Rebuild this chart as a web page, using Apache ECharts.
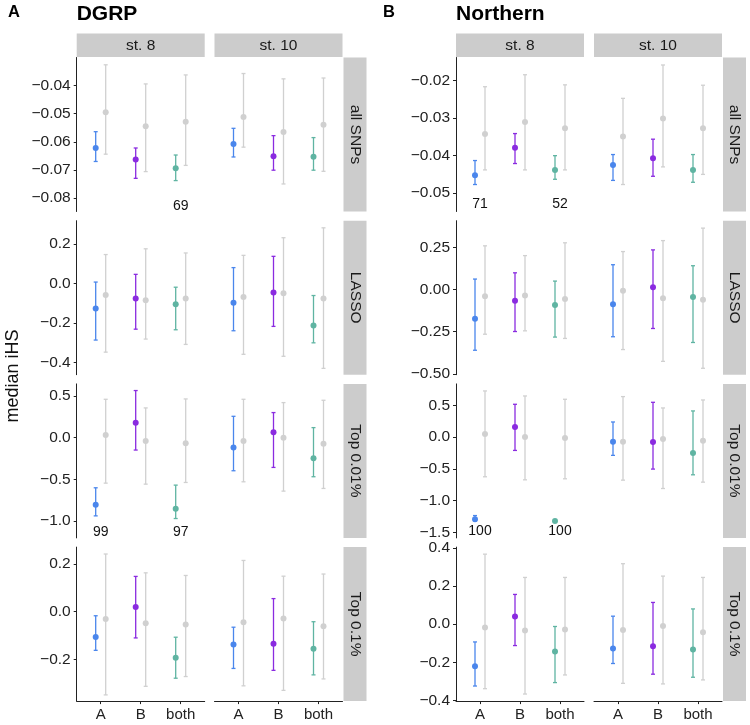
<!DOCTYPE html>
<html><head><meta charset="utf-8">
<script src="https://cdn.jsdelivr.net/npm/echarts@6/dist/echarts.min.js"></script>
<style>html,body{margin:0;padding:0;background:#fff}#c{width:750px;height:725px}</style>
</head><body><div id="c"></div>
<script>
// ---- categories ----
const categories = ['A', 'B', 'both'];
const stages = ['st. 8', 'st. 10'];
const snpSets = ['all SNPs', 'LASSO', 'Top 0.01%', 'Top 0.1%'];
const panels = ['DGRP', 'Northern'];
const panelTags = ['A', 'B'];

// ---- values: each entry is [median, lower, upper] for A, B, both ----
// DGRP
const DGRP_all_st8_obs   = [[-0.0622,-0.0670,-0.0564],[-0.0663,-0.0730,-0.0622],[-0.0694,-0.0738,-0.0647]];
const DGRP_all_st8_null  = [[-0.0495,-0.0644,-0.0326],[-0.0545,-0.0706,-0.0394],[-0.0529,-0.0684,-0.0362]];
const DGRP_all_st10_obs  = [[-0.0608,-0.0654,-0.0552],[-0.0651,-0.0701,-0.0578],[-0.0653,-0.0701,-0.0585]];
const DGRP_all_st10_null = [[-0.0512,-0.0619,-0.0357],[-0.0565,-0.0750,-0.0376],[-0.0539,-0.0705,-0.0373]];

const DGRP_lasso_st8_obs   = [[-0.127,-0.286,0.007],[-0.076,-0.231,0.046],[-0.105,-0.234,-0.019]];
const DGRP_lasso_st8_null  = [[-0.058,-0.347,0.146],[-0.085,-0.281,0.175],[-0.076,-0.308,0.154]];
const DGRP_lasso_st10_obs  = [[-0.097,-0.239,0.080],[-0.046,-0.217,0.137],[-0.212,-0.300,-0.061]];
const DGRP_lasso_st10_null = [[-0.068,-0.358,0.142],[-0.049,-0.368,0.231],[-0.076,-0.429,0.281]];

const DGRP_top001_st8_obs   = [[-0.808,-0.941,-0.603],[0.181,-0.149,0.567],[-0.856,-0.973,-0.571]];
const DGRP_top001_st8_null  = [[0.032,-0.547,0.462],[-0.040,-0.559,0.358],[-0.068,-0.539,0.466]];
const DGRP_top001_st10_obs  = [[-0.117,-0.398,0.257],[0.064,-0.358,0.302],[-0.249,-0.470,0.121]];
const DGRP_top001_st10_null = [[-0.040,-0.531,0.462],[0.000,-0.643,0.422],[-0.072,-0.611,0.450]];

const DGRP_top01_st8_obs   = [[-0.106,-0.162,-0.017],[0.020,-0.110,0.148],[-0.193,-0.279,-0.107]];
const DGRP_top01_st8_null  = [[-0.031,-0.349,0.242],[-0.048,-0.313,0.163],[-0.054,-0.272,0.152]];
const DGRP_top01_st10_obs  = [[-0.138,-0.238,-0.065],[-0.134,-0.246,0.055],[-0.155,-0.265,-0.042]];
const DGRP_top01_st10_null = [[-0.044,-0.311,0.215],[-0.028,-0.330,0.149],[-0.061,-0.282,0.158]];

// Northern
const NOR_all_st8_obs   = [[-0.0453,-0.0478,-0.0414],[-0.0380,-0.0422,-0.0342],[-0.0439,-0.0464,-0.0401]];
const NOR_all_st8_null  = [[-0.0343,-0.0439,-0.0217],[-0.0311,-0.0439,-0.0185],[-0.0328,-0.0439,-0.0212]];
const NOR_all_st10_obs  = [[-0.0426,-0.0467,-0.0398],[-0.0408,-0.0456,-0.0357],[-0.0439,-0.0472,-0.0398]];
const NOR_all_st10_null = [[-0.0350,-0.0478,-0.0248],[-0.0302,-0.0431,-0.0159],[-0.0328,-0.0451,-0.0213]];

const NOR_lasso_st8_obs   = [[-0.173,-0.360,0.062],[-0.066,-0.249,0.099],[-0.092,-0.282,0.050]];
const NOR_lasso_st8_null  = [[-0.040,-0.265,0.259],[-0.036,-0.245,0.201],[-0.056,-0.290,0.277]];
const NOR_lasso_st10_obs  = [[-0.088,-0.280,0.147],[0.014,-0.231,0.235],[-0.044,-0.314,0.141]];
const NOR_lasso_st10_null = [[-0.008,-0.356,0.225],[-0.052,-0.426,0.290],[-0.060,-0.467,0.364]];

const NOR_top001_st8_obs   = [[-1.295,-1.321,-1.237],[0.158,-0.211,0.516],[-1.321,-1.330,-1.312]];
const NOR_top001_st8_null  = [[0.047,-0.626,0.726],[0.000,-0.674,0.647],[-0.016,-0.658,0.595]];
const NOR_top001_st10_obs  = [[-0.074,-0.289,0.237],[-0.079,-0.505,0.547],[-0.253,-0.595,0.411]];
const NOR_top001_st10_null = [[-0.074,-0.679,0.637],[-0.032,-0.811,0.458],[-0.058,-0.711,0.584]];

const NOR_top01_st8_obs   = [[-0.220,-0.324,-0.093],[0.040,-0.112,0.156],[-0.143,-0.306,-0.012]];
const NOR_top01_st8_null  = [[-0.017,-0.338,0.367],[-0.033,-0.366,0.245],[-0.028,-0.266,0.245]];
const NOR_top01_st10_obs  = [[-0.128,-0.206,0.042],[-0.115,-0.262,0.114],[-0.133,-0.278,0.080]];
const NOR_top01_st10_null = [[-0.030,-0.310,0.317],[-0.009,-0.313,0.252],[-0.042,-0.292,0.245]];

// ---- count labels: [panel, snpSet, stage, category, text, yValue] ----
const countLabels = [
  [0, 0, 0, 2, '69', -0.0828],
  [0, 2, 0, 0, '99', -1.134],
  [0, 2, 0, 2, '97', -1.134],
  [1, 0, 0, 0, '71', -0.0531],
  [1, 0, 0, 2, '52', -0.0531],
  [1, 2, 0, 0, '100', -1.479],
  [1, 2, 0, 2, '100', -1.479]
];

// ---- y tick values per panel/row ----
const yTicks = [
  [[-0.08,-0.07,-0.06,-0.05,-0.04],[-0.4,-0.2,0,0.2],[-1.0,-0.5,0,0.5],[-0.2,0,0.2]],
  [[-0.05,-0.04,-0.03,-0.02],[-0.5,-0.25,0,0.25],[-1.5,-1.0,-0.5,0,0.5],[-0.4,-0.2,0,0.2,0.4]]
];
const yDecimals = [[2,1,1,1],[2,2,1,1]];
const yRanges = [
  [[-0.0848,-0.0300],[-0.461,0.317],[-1.206,0.647],[-0.375,0.271]],
  [[-0.0550,-0.0139],[-0.505,0.408],[-1.589,0.837],[-0.403,0.404]]
];

const facetData = [
  [
    [[DGRP_all_st8_obs, DGRP_all_st8_null],[DGRP_all_st10_obs, DGRP_all_st10_null]],
    [[DGRP_lasso_st8_obs, DGRP_lasso_st8_null],[DGRP_lasso_st10_obs, DGRP_lasso_st10_null]],
    [[DGRP_top001_st8_obs, DGRP_top001_st8_null],[DGRP_top001_st10_obs, DGRP_top001_st10_null]],
    [[DGRP_top01_st8_obs, DGRP_top01_st8_null],[DGRP_top01_st10_obs, DGRP_top01_st10_null]]
  ],
  [
    [[NOR_all_st8_obs, NOR_all_st8_null],[NOR_all_st10_obs, NOR_all_st10_null]],
    [[NOR_lasso_st8_obs, NOR_lasso_st8_null],[NOR_lasso_st10_obs, NOR_lasso_st10_null]],
    [[NOR_top001_st8_obs, NOR_top001_st8_null],[NOR_top001_st10_obs, NOR_top001_st10_null]],
    [[NOR_top01_st8_obs, NOR_top01_st8_null],[NOR_top01_st10_obs, NOR_top01_st10_null]]
  ]
];

// ---- styling / layout ----
const obsColors = ['#4a86ec', '#8a2be0', '#5fb4a2'];
const nullColor = '#d0d0d0';
const FONT = 'Liberation Sans, Arial, Helvetica, sans-serif';
const colLeft = [[76.7, 214.5], [456, 594]];
const colWidth = 128;
const rowTop0 = 57.5, rowStep = 163.2, rowH = 154;
const dodge = 0.125;
const stripFill = '#cccccc';
const tickFont = 15.5, stripFont = 15.5;

const grids = [], xAxes = [], yAxes = [], series = [], graphics = [];
const fmtMinus = (v, d) => (v < 0 ? '\u2212' : '') + Math.abs(v).toFixed(d);

let gi = 0;
for (let p = 0; p < 2; p++) {
  for (let r = 0; r < 4; r++) {
    for (let c = 0; c < 2; c++) {
      const top = rowTop0 + r * rowStep;
      const left = colLeft[p][c];
      grids.push({ left: left, top: top, width: colWidth, height: rowH, containLabel: false });
      const bottomRow = r === 3;
      xAxes.push({
        type: 'value', gridIndex: gi, min: 0.4, max: 3.6,
        show: true,
        axisLine: { show: bottomRow, onZero: false, lineStyle: { color: '#222', width: 1 } },
        axisTick: { show: bottomRow, customValues: [1, 2, 3], length: 3, lineStyle: { color: '#222' } },
        axisLabel: { show: bottomRow, customValues: [1, 2, 3], formatter: v => categories[Math.round(v) - 1],
          color: '#222', fontSize: 15, fontFamily: FONT, margin: 6 },
        splitLine: { show: false }
      });
      const leftCol = c === 0;
      yAxes.push({
        type: 'value', gridIndex: gi, min: yRanges[p][r][0], max: yRanges[p][r][1],
        axisLine: { show: leftCol, onZero: false, lineStyle: { color: '#222', width: 1 } },
        axisTick: { show: leftCol, customValues: yTicks[p][r], length: 3, lineStyle: { color: '#222' } },
        axisLabel: { show: leftCol, customValues: yTicks[p][r], formatter: v => fmtMinus(v, yDecimals[p][r]),
          color: '#222', fontSize: tickFont, fontFamily: FONT, margin: 6 },
        splitLine: { show: false }
      });
      const [obs, nul] = facetData[p][r][c];
      const bars = [], pts = [];
      for (let k = 0; k < 3; k++) {
        bars.push([k + 1 + dodge, nul[k][1], nul[k][2], -1]);
      }
      for (let k = 0; k < 3; k++) {
        bars.push([k + 1 - dodge, obs[k][1], obs[k][2], k]);
      }
      for (let k = 0; k < 3; k++) {
        pts.push({ value: [k + 1 + dodge, nul[k][0]], itemStyle: { color: nullColor, opacity: 1 } });
        pts.push({ value: [k + 1 - dodge, obs[k][0]], itemStyle: { color: obsColors[k], opacity: 1 } });
      }
      series.push({
        type: 'custom', xAxisIndex: gi, yAxisIndex: gi, data: bars, clip: false,
        renderItem: function (params, api) {
          const x = api.value(0), lo = api.value(1), hi = api.value(2), ci = api.value(3);
          const col = ci < 0 ? nullColor : obsColors[ci];
          const a = api.coord([x, hi]), b = api.coord([x, lo]);
          const w = 2;
          const st = { stroke: col, lineWidth: 1.3 };
          return { type: 'group', children: [
            { type: 'line', shape: { x1: a[0], y1: a[1], x2: b[0], y2: b[1] }, style: st },
            { type: 'line', shape: { x1: a[0] - w, y1: a[1], x2: a[0] + w, y2: a[1] }, style: st },
            { type: 'line', shape: { x1: b[0] - w, y1: b[1], x2: b[0] + w, y2: b[1] }, style: st }
          ]};
        }
      });
      series.push({
        type: 'scatter', xAxisIndex: gi, yAxisIndex: gi, data: pts, symbol: 'circle', symbolSize: 6,
        silent: true, z: 3, itemStyle: { opacity: 1 }
      });
      const labs = countLabels.filter(l => l[0] === p && l[1] === r && l[2] === c);
      if (labs.length) {
        series.push({
          type: 'scatter', xAxisIndex: gi, yAxisIndex: gi, symbolSize: 0, silent: true,
          itemStyle: { opacity: 1 },
          data: labs.map(l => ({ value: [l[3] + 1, l[5]], name: l[4] })),
          label: { show: true, position: 'inside', formatter: d => d.name, color: '#111', opacity: 1,
            textBorderWidth: 0, fontSize: 14, fontFamily: FONT }
        });
      }
      gi++;
    }
  }
  // top strips
  for (let c = 0; c < 2; c++) {
    graphics.push({ type: 'rect', shape: { x: colLeft[p][c], y: 33.5, width: colWidth, height: 23.5 }, style: { fill: stripFill }, silent: true });
    graphics.push({ type: 'text', x: colLeft[p][c] + colWidth / 2, y: 45.5,
      style: { text: stages[c], fill: '#1a1a1a', fontSize: stripFont, fontFamily: FONT, align: 'center', verticalAlign: 'middle' } });
  }
  // right strips
  const rx = colLeft[p][1] + colWidth + 1;
  for (let r = 0; r < 4; r++) {
    const top = rowTop0 + r * rowStep;
    graphics.push({ type: 'rect', shape: { x: rx, y: top, width: 23, height: rowH }, style: { fill: stripFill }, silent: true });
    graphics.push({ type: 'text', x: rx + 11.5, y: top + rowH / 2, rotation: -Math.PI / 2,
      style: { text: snpSets[r], fill: '#1a1a1a', fontSize: stripFont, fontFamily: FONT, align: 'center', verticalAlign: 'middle' } });
  }
  // titles
  const px = p === 0 ? 0 : 375;
  graphics.push({ type: 'text', x: px + 8, y: 12, style: { text: panelTags[p], fill: '#000', fontSize: 16.5, fontWeight: 'bold', fontFamily: FONT, verticalAlign: 'middle' } });
  graphics.push({ type: 'text', x: colLeft[p][0], y: 14.5, style: { text: panels[p], fill: '#000', fontSize: 21, fontWeight: 'bold', fontFamily: FONT, verticalAlign: 'middle' } });
}
graphics.push({ type: 'text', x: 13, y: 376, rotation: Math.PI / 2,
  style: { text: 'median iHS', fill: '#111', fontSize: 18, fontFamily: FONT, align: 'center', verticalAlign: 'middle' } });

const chart = echarts.init(document.getElementById('c'), null, { renderer: 'canvas' });
chart.setOption({
  animation: false,
  backgroundColor: '#fff',
  grid: grids, xAxis: xAxes, yAxis: yAxes, series: series, graphic: graphics
});
</script>
</body></html>
